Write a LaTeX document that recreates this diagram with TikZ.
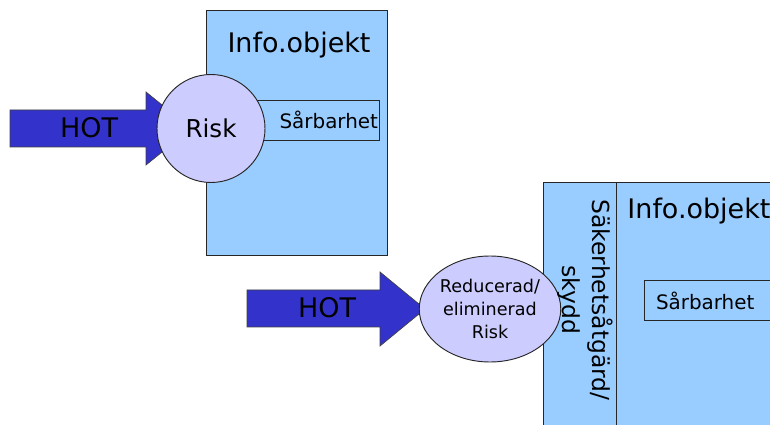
\documentclass[tikz,border=0pt]{standalone}
\usepackage{fontspec}
\setmainfont{DejaVu Sans}
\usetikzlibrary{shapes.geometric}
\definecolor{objblue}{HTML}{99CCFF}
\definecolor{riskfill}{HTML}{CCCCFF}
\definecolor{hotblue}{HTML}{3333CC}
\newcommand{\pxu}{0.03cm}

\begin{document}
\begin{tikzpicture}[x=0.03cm, y=-0.03cm, line width=0.8pt,
    obj/.style={draw=black!85, fill=objblue, inner sep=0pt},
    vuln/.style={draw=black!85, fill=objblue, inner ysep=0pt, minimum height=40*\pxu,
                 font=\fontsize{17}{20}\selectfont},
    risk/.style={draw=black!85, fill=riskfill, inner sep=0pt},
    hot/.style={draw=black!75, fill=hotblue, line width=0.6pt}]
  \useasboundingbox (0,0) rectangle (770,425);
  \clip (0,0) rectangle (770,425);

  % ---- Info.objekt, upper
  \node[obj, minimum width=181*\pxu, minimum height=245*\pxu] (obj1) at (296.5,132.5) {};
  \node[font=\fontsize{23}{26}\selectfont] (obj1t) at (299,45) {Info.objekt};
  \node[vuln, text width=122*\pxu, inner xsep=1*\pxu, align=right] (vuln1) at (317,120) {Sårbarhet};
  \draw[hot] (10,110) -- (146,110) -- (146,92) -- (191,128.5) -- (146,165) -- (146,147) -- (10,147) -- cycle;
  \node[font=\fontsize{23}{26}\selectfont] (hot1) at (89,128) {HOT};
  \node[risk, circle, minimum size=108*\pxu, font=\fontsize{21}{24}\selectfont] (risk1) at (211,128.5) {Risk};

  % ---- Info.objekt, lower
  \node[obj, minimum width=73*\pxu, minimum height=263*\pxu] (safe) at (579.5,313.5) {};
  \node[obj, minimum width=184*\pxu, minimum height=263*\pxu] (obj2) at (708,313.5) {};
  \node[font=\fontsize{23}{26}\selectfont, anchor=west, inner sep=0pt] (obj2t) at (627,211) {Info.objekt};
  \node[vuln, text width=133*\pxu, inner xsep=12*\pxu, align=left] (vuln2) at (722.5,300.5) {Sårbarhet};
  \draw[hot] (247,290) -- (380,290) -- (380,272) -- (425,309) -- (380,346) -- (380,327) -- (247,327) -- cycle;
  \node[font=\fontsize{23}{26}\selectfont] (hot2) at (327,308) {HOT};
  \node[risk, ellipse, minimum width=130*\pxu, minimum height=106*\pxu, align=center,
        font=\fontsize{15}{19.6}\selectfont] (risk2) at (490,309) {Reducerad/\\eliminerad\\Risk};
  \node[rotate=-90, align=center, inner sep=0pt, font=\fontsize{20}{25.6}\selectfont] (safet) at (585,300) {Säkerhetsåtgärd/\\skydd};
\end{tikzpicture}
\end{document}
